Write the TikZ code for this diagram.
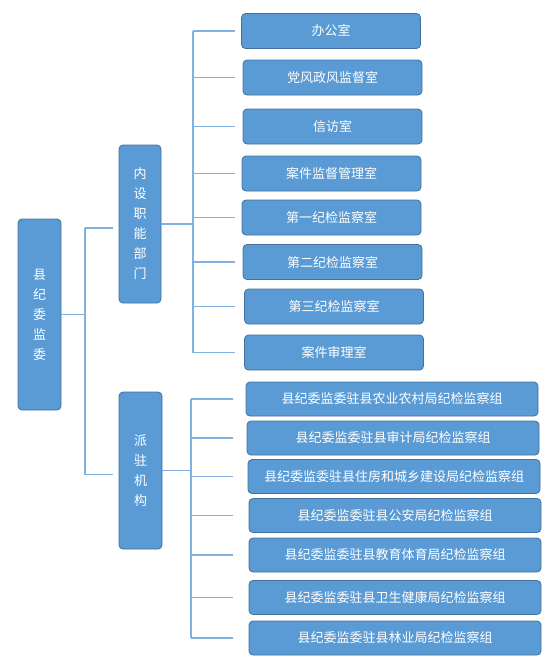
\documentclass[tikz,border=0pt]{standalone}
\usepackage{fontspec}
\setmainfont{Noto Sans CJK SC}
\usepackage{tikz}
\usetikzlibrary{positioning}
\definecolor{boxblue}{RGB}{91,155,213}
\definecolor{boxedge}{RGB}{65,113,156}
\definecolor{linkblue}{RGB}{130,176,224}
\tikzset{
	unit/.style={
		rectangle, 
		rounded corners=4pt, 
		text centered, 
		draw=boxedge, 
		line width=0.8pt,
		fill=boxblue,
		text=white,
		font={\fontsize{13}{20}\selectfont}
	},
	tall/.style={
		unit,
		align=center,
		inner sep=0pt
	},
	office/.style={
		unit,
		minimum width=179pt, 
		minimum height=35pt
	},
	team/.style={
		unit,
		minimum width=292pt, 
		minimum height=34pt
	},
	link/.style={draw=linkblue, line width=1.1pt}
}

\begin{document}
\begin{tikzpicture}[x=1pt, y=-1pt]
	\useasboundingbox (0,0) rectangle (554,667);
	% left column
	\node (root) [tall, minimum width=43pt, minimum height=191pt] at (39.5,314.5) {县\\纪\\委\\监\\委};
	\node (neishe) [tall, minimum width=42pt, minimum height=158pt] at (140,224) {内\\设\\职\\能\\部\\门};
	\node (paizhu) [tall, minimum width=43pt, minimum height=157pt] at (140.5,470.5) {派\\驻\\机\\构};
	
	% internal departments
	\node (bangong) [office] at (331,31) {办公室};
	\node (dangfeng) [office] at (332.5,77.5) {党风政风监督室};
	\node (xinfang) [office] at (332.5,126.5) {信访室};
	\node (jiandu) [office] at (331.5,173.5) {案件监督管理室};
	\node (shi1) [office] at (331.5,217.5) {第一纪检监察室};
	\node (shi2) [office] at (332.5,262) {第二纪检监察室};
	\node (shi3) [office] at (334,306.5) {第三纪检监察室};
	\node (shenli) [office] at (334,352.5) {案件审理室};
	
	% stationed teams
	\node (zu1) [team] at (392,399) {县纪委监委驻县农业农村局纪检监察组};
	\node (zu2) [team] at (393,438) {县纪委监委驻县审计局纪检监察组};
	\node (zu3) [team] at (394,476.5) {县纪委监委驻县住房和城乡建设局纪检监察组};
	\node (zu4) [team] at (395,515.5) {县纪委监委驻县公安局纪检监察组};
	\node (zu5) [team] at (395,555) {县纪委监委驻县教育体育局纪检监察组};
	\node (zu6) [team] at (395,597.5) {县纪委监委驻县卫生健康局纪检监察组};
	\node (zu7) [team] at (395,638) {县纪委监委驻县林业局纪检监察组};
	
	\coordinate (bus0) at (85,0);
	\coordinate (tip0) at (113,0);
	\coordinate (bus1) at (193,0);
	\coordinate (tip1) at (235,0);
	\coordinate (bus2) at (191,0);
	\coordinate (tip2) at (233,0);
	
	% root to groups
	\draw [link] (root.east) -- (bus0 |- root.east);
	\draw [link] (bus0 |- neishe.west) ++(0,4) -- (bus0 |- paizhu.west) -- ++(0,4);
	\draw [link] ([yshift=-4pt]bus0 |- neishe.west) -- ([yshift=-4pt]tip0 |- neishe.west);
	\draw [link] ([yshift=-4pt]bus0 |- paizhu.west) -- ([yshift=-4pt]tip0 |- paizhu.west);
	
	% departments
	\draw [link] (neishe.east) -- (bus1 |- neishe.east);
	\draw [link] (bus1 |- bangong.west) -- (bus1 |- shenli.west);
	\draw [link] (bus1 |- bangong.west) -- (tip1 |- bangong.west);
	\draw [link] (bus1 |- dangfeng.west) -- (tip1 |- dangfeng.west);
	\draw [link] (bus1 |- xinfang.west) -- (tip1 |- xinfang.west);
	\draw [link] (bus1 |- jiandu.west) -- (tip1 |- jiandu.west);
	\draw [link] (bus1 |- shi1.west) -- (tip1 |- shi1.west);
	\draw [link] (bus1 |- shi2.west) -- (tip1 |- shi2.west);
	\draw [link] (bus1 |- shi3.west) -- (tip1 |- shi3.west);
	\draw [link] (bus1 |- shenli.west) -- (tip1 |- shenli.west);
	
	% teams
	\draw [link] (paizhu.east) -- (bus2 |- paizhu.east);
	\draw [link] (bus2 |- zu1.west) -- (bus2 |- zu7.west);
	\draw [link] (bus2 |- zu1.west) -- (tip2 |- zu1.west);
	\draw [link] (bus2 |- zu2.west) -- (tip2 |- zu2.west);
	\draw [link] (bus2 |- zu3.west) -- (tip2 |- zu3.west);
	\draw [link] (bus2 |- zu4.west) -- (tip2 |- zu4.west);
	\draw [link] (bus2 |- zu5.west) -- (tip2 |- zu5.west);
	\draw [link] (bus2 |- zu6.west) -- (tip2 |- zu6.west);
	\draw [link] (bus2 |- zu7.west) -- (tip2 |- zu7.west);
\end{tikzpicture}
\end{document}
